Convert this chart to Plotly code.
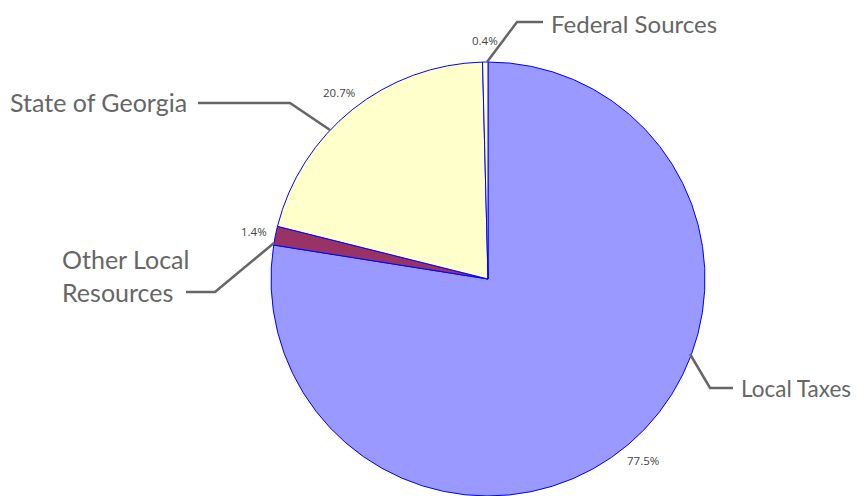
import math
import plotly.graph_objects as go

W, H = 863, 496
OFF = 8  # browser body margin

categories = ["Local Taxes", "Other Local Resources", "State of Georgia", "Federal Sources"]
values = [77.5, 1.4, 20.7, 0.4]
colors = ["#9999FF", "#993366", "#FFFFCC", "#FFFFFF"]

label_texts = ["Local Taxes", "Other Local<br>Resources", "State of Georgia", "Federal Sources"]

# pie geometry in screen pixels
cx, cy, r = 488, 279, 217

def px(x):
    return (x - OFF) / W

def py(y):
    return 1 - (y - OFF) / H

fig = go.Figure(go.Pie(
    labels=categories,
    values=values,
    marker=dict(colors=colors, line=dict(color="#0000FF", width=1)),
    sort=False,
    direction="clockwise",
    rotation=0,
    textinfo="none",
    domain=dict(x=[px(cx - r), px(cx + r)], y=[max(0, py(cy + r)), min(1, py(cy - r))]),
    showlegend=False,
    hoverinfo="label+percent",
))

# leader lines (screen pixel paths) and label positions
leaders = {
    "Local Taxes": [(690, 354), (710, 388), (733, 388)],
    "Other Local Resources": [(274, 243), (215, 292), (186, 292)],
    "State of Georgia": [(330, 130), (290, 103), (198, 103)],
    "Federal Sources": [(487, 62), (517, 22), (543, 22)],
}
label_pos = {
    "Local Taxes": (740, 388, "left", "middle", 22.5),
    "Other Local Resources": (61, 275, "left", "middle", 25),
    "State of Georgia": (188, 102, "right", "middle", 25),
    "Federal Sources": (550, 23, "left", "middle", 24),
}

shapes = []
annotations = []
for cat, lab in zip(categories, label_texts):
    pts = leaders[cat]
    path = "M " + " L ".join(f"{px(x)},{py(y)}" for x, y in pts)
    shapes.append(dict(type="path", xref="paper", yref="paper", path=path,
                       line=dict(color="#666666", width=2.5)))
    x, y, xa, ya, fs = label_pos[cat]
    annotations.append(dict(x=px(x), y=py(y), xref="paper", yref="paper",
                            text=lab, showarrow=False, xanchor=xa, yanchor=ya,
                            align="left", borderpad=0,
                            font=dict(family="Lato", size=fs, color="#666666")))

# percentage labels placed at each slice's mid-angle, just outside the pie
total = sum(values)
cum = 0.0
gap = 22
for v in values:
    mid = (cum + v / 2) / total * 2 * math.pi
    cum += v
    tx = cx + (r + gap) * math.sin(mid)
    ty = cy - (r + gap) * math.cos(mid)
    annotations.append(dict(x=px(tx), y=py(ty), xref="paper", yref="paper",
                            text=f"{v / total * 100:.1f}%", showarrow=False,
                            xanchor="center", yanchor="middle", borderpad=0,
                            font=dict(family="Open Sans", size=11.5, color="#444444")))

fig.update_layout(
    width=W, height=H,
    margin=dict(l=0, r=0, t=0, b=0),
    paper_bgcolor="white",
    plot_bgcolor="white",
    shapes=shapes,
    annotations=annotations,
)

fig.write_html("out.html")
